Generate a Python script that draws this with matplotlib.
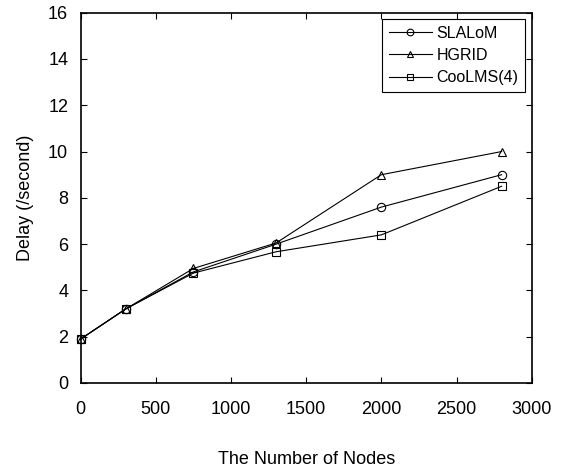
import matplotlib
matplotlib.use("Agg")
from matplotlib import pyplot as plt

plt.rcParams['font.family'] = ['Liberation Sans', 'DejaVu Sans']

# data
nodes = [0, 300, 750, 1300, 2000, 2800]
slalom = [1.9, 3.2, 4.8, 6.0, 7.6, 9.0]
hgrid = [1.9, 3.2, 4.95, 6.05, 9.0, 10.0]
coolms = [1.9, 3.2, 4.75, 5.67, 6.4, 8.5]

series_names = ["SLALoM", "HGRID", "CooLMS(4)"]
x_ticks = [0, 500, 1000, 1500, 2000, 2500, 3000]
y_ticks = [0, 2, 4, 6, 8, 10, 12, 14, 16]


def plot_delay():
    """Draw the delay vs number of nodes chart."""
    fig = plt.figure(figsize=(5.67, 4.69), dpi=100)
    ax = fig.add_axes([0.1423, 0.1834, 0.7954, 0.7895])

    style = dict(color="black", linewidth=0.8, markersize=6,
                 markerfacecolor="none", markeredgewidth=0.8, clip_on=False)
    ax.plot(nodes, slalom, marker="o", label=series_names[0], **style)
    ax.plot(nodes, hgrid, marker="^", label=series_names[1], **style)
    ax.plot(nodes, coolms, marker="s", label=series_names[2], **style)

    ax.set_xlim(0, 3000)
    ax.set_ylim(0, 16)
    ax.set_xticks(x_ticks)
    ax.set_yticks(y_ticks)
    ax.tick_params(direction="in", top=True, right=True, length=4,
                   width=0.8, labelsize=13)
    ax.tick_params(axis="x", pad=13)
    ax.tick_params(axis="y", pad=9)
    for spine in ax.spines.values():
        spine.set_linewidth(1.2)

    ax.set_xlabel("The Number of Nodes", fontsize=13, labelpad=24)
    ax.set_ylabel("Delay (/second)", fontsize=13, labelpad=10)

    leg = ax.legend(loc="upper right", bbox_to_anchor=(0.985, 0.982),
                    fontsize=11.5, markerscale=0.8, handlelength=2.7,
                    handletextpad=0.3, labelspacing=0.45, borderpad=0.4,
                    fancybox=False, framealpha=1, edgecolor="black",
                    borderaxespad=0)
    leg.get_frame().set_linewidth(0.8)

    fig.savefig("out.png", dpi=100)


plot_delay()
